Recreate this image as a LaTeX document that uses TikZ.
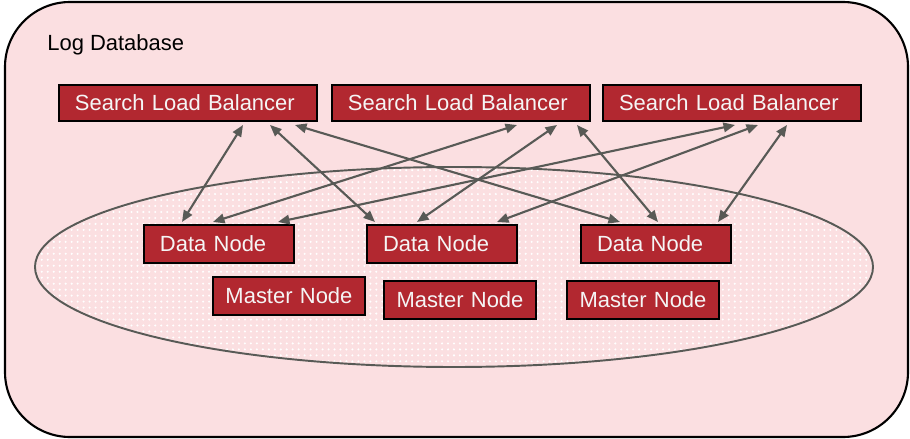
\documentclass[tikz,border=0pt]{standalone}
\usepackage{fontspec}
\setmainfont{Liberation Sans}
\usetikzlibrary{arrows.meta,calc,patterns.meta}
\definecolor{dbPink}{RGB}{251,223,225}
\definecolor{boxRed}{RGB}{178,40,48}
\definecolor{lnGray}{RGB}{88,90,86}
\tikzset{
  dbframe/.style={draw=black, line width=1.2pt, fill=dbPink, rounded corners=1.3cm},
  ringln/.style={draw=lnGray, line width=1.1pt,
    pattern={Dots[radius=0.65pt, distance=3.4pt]}, pattern color=white},
  boxnd/.style={draw=black, line width=0.04cm, fill=boxRed, text=white!96!black,
    anchor=north west, align=left, inner xsep=0.32cm, inner ysep=0pt,
    font=\fontsize{12.5}{15}\selectfont},
  slbnd/.style={boxnd, text width=4.52cm, minimum height=0.72cm},
  datand/.style={boxnd, text width=2.36cm, minimum height=0.76cm},
  masternd/.style={boxnd, text width=2.54cm, inner xsep=0.25cm, minimum height=0.76cm},
  linkln/.style={{Triangle[length=2.3mm,width=1.9mm]}-{Triangle[length=2.3mm,width=1.9mm]},
    line width=1.2pt, lnGray},
}
% link from a balancer (bottom edge) to a data node (top edge)
\newcommand{\linkpt}[4]{%
  \draw[linkln] ($(#1.south west)+(#2,3)$) -- ($(#3.north west)+(#4,-2)$);
}

\begin{document}
\begin{tikzpicture}[x=0.02cm, y=-0.02cm]
    \useasboundingbox (0,0) rectangle (910,439);
    % frame
    \path[dbframe] (5,2) rectangle (908,437);
    \node[anchor=base west, inner sep=0pt, font=\fontsize{12.5}{15}\selectfont] (title)
      at (47,51) {Log Database};
    % cluster
    \path[ringln] (454,267) ellipse [x radius=419, y radius=100];
    % search load balancers
    \node[slbnd] (slb1) at (58,84) {Search Load Balancer};
    \node[slbnd] (slb2) at (331,84) {Search Load Balancer};
    \node[slbnd] (slb3) at (602,84) {Search Load Balancer};
    % data nodes
    \node[datand] (dn1) at (143,224) {Data Node};
    \node[datand] (dn2) at (366,224) {Data Node};
    \node[datand] (dn3) at (580,224) {Data Node};
    % master nodes
    \node[masternd] (mn1) at (212,276) {Master Node};
    \node[masternd] (mn2) at (383,280) {Master Node};
    \node[masternd] (mn3) at (566,280) {Master Node};
    % links
    \linkpt{slb1}{185}{dn1}{39}
    \linkpt{slb1}{212}{dn2}{9}
    \linkpt{slb1}{237}{dn3}{40}
    \linkpt{slb2}{186}{dn1}{70}
    \linkpt{slb2}{226}{dn2}{51}
    \linkpt{slb2}{246}{dn3}{78}
    \linkpt{slb3}{133}{dn1}{135}
    \linkpt{slb3}{156}{dn2}{131}
    \linkpt{slb3}{185}{dn3}{138}
  \end{tikzpicture}
\end{document}
